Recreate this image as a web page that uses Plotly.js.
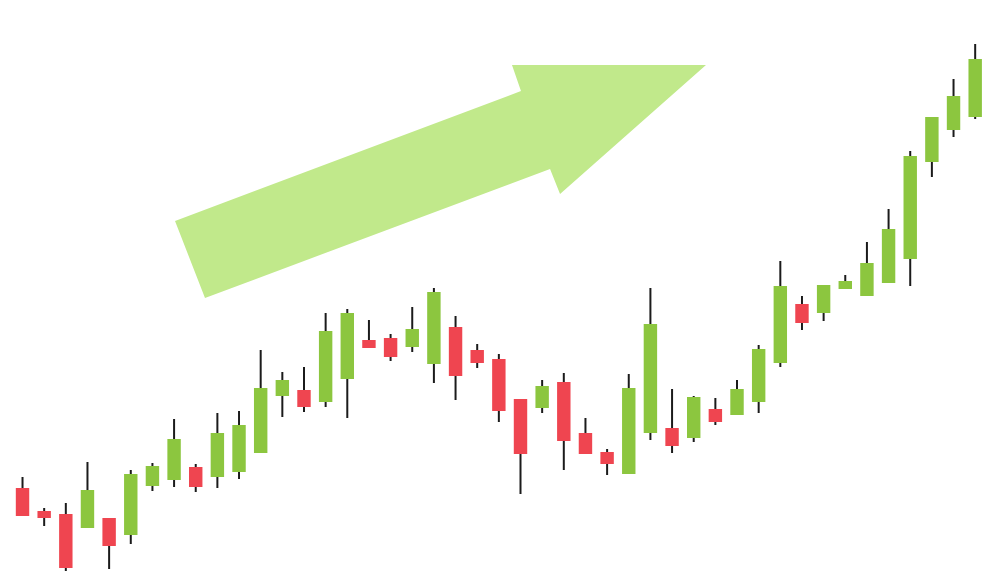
<!DOCTYPE html>
<html>
<head>
<meta charset="utf-8">
<script src="https://cdn.plot.ly/plotly-3.0.1.min.js"></script>
<style>
  html, body { margin: 0; padding: 0; background: #ffffff; }
  #chart { width: 999px; height: 583px; }
</style>
</head>
<body>
<div id="chart"></div>
<script>
// Candle index (sessions)
const sessions = Array.from({length: 45}, (_, i) => i + 1);

// OHLC values
const openP  = [95, 72, 69, 55, 65, 48, 97, 103, 116, 106, 111, 130, 187, 193, 181, 204, 243, 245, 236, 219, 256, 233, 224, 184, 175, 201, 150, 131, 109, 150, 155, 145, 174, 168, 181, 220, 279, 270, 294, 287, 300, 324, 421, 453, 466];
const highP  = [106, 75, 80, 121, 65, 113, 120, 164, 119, 170, 172, 233, 211, 216, 270, 274, 263, 249, 276, 295, 267, 239, 229, 184, 203, 210, 165, 134, 209, 295, 194, 187, 185, 203, 238, 322, 287, 298, 308, 341, 374, 432, 466, 504, 539];
const lowP   = [67, 57, 12, 55, 14, 39, 92, 96, 91, 95, 104, 130, 166, 171, 176, 165, 235, 222, 231, 200, 183, 215, 161, 89, 170, 113, 129, 108, 109, 143, 130, 141, 158, 168, 170, 216, 253, 262, 294, 287, 300, 297, 406, 446, 464];
const closeP = [67, 65, 15, 93, 37, 109, 117, 144, 96, 150, 158, 195, 203, 176, 252, 270, 235, 226, 254, 291, 207, 220, 172, 129, 197, 142, 129, 119, 195, 259, 137, 186, 161, 194, 234, 297, 260, 298, 302, 320, 354, 427, 466, 487, 524];

const upColor = '#8cc63f';
const downColor = '#ef4550';
const wickColor = '#1b1b1b';

const xs = sessions.map(s => s - 1);
const bases = openP.map((o, i) => Math.min(o, closeP[i]));
const heights = openP.map((o, i) => Math.abs(closeP[i] - o));
const colors = openP.map((o, i) => closeP[i] >= o ? upColor : downColor);

// wick segments outside the bodies
const wx = [], wy = [];
xs.forEach((x, i) => {
  const top = Math.max(openP[i], closeP[i]);
  const bot = Math.min(openP[i], closeP[i]);
  if (highP[i] > top) { wx.push(x, x, null); wy.push(top, highP[i], null); }
  if (lowP[i] < bot) { wx.push(x, x, null); wy.push(lowP[i], bot, null); }
});

const bodies = {
  type: 'bar',
  x: xs,
  y: heights,
  base: bases,
  width: 0.62,
  marker: { color: colors, line: { width: 0 } },
  hoverinfo: 'skip',
  showlegend: false
};

const wicks = {
  type: 'scatter',
  mode: 'lines',
  x: wx,
  y: wy,
  line: { color: wickColor, width: 2 },
  hoverinfo: 'skip',
  showlegend: false
};

// decorative arrow outline (pixel positions -> paper fractions)
const W = 999, H = 583;
const arrowPx = [[175,221],[521,91],[512,65],[706,65],[560,194],[550,169],[205,298]];
const arrowPath = arrowPx.map((p, i) => (i ? 'L' : 'M') + (p[0] / W).toFixed(4) + ',' + (1 - p[1] / H).toFixed(4)).join(' ') + ' Z';

const layout = {
  width: 999,
  height: 583,
  margin: { l: 0, r: 0, t: 0, b: 0 },
  paper_bgcolor: '#ffffff',
  plot_bgcolor: '#ffffff',
  barmode: 'overlay',
  xaxis: { range: [-1.04, 45.1], showgrid: false, zeroline: false, showticklabels: false, ticks: '', showline: false, fixedrange: true },
  yaxis: { range: [0, 583], showgrid: false, zeroline: false, showticklabels: false, ticks: '', showline: false, fixedrange: true },
  shapes: [{
    type: 'path',
    xref: 'paper',
    yref: 'paper',
    path: arrowPath,
    fillcolor: '#c1e98b',
    line: { width: 0 },
    layer: 'below'
  }],
  showlegend: false
};

Plotly.newPlot('chart', [bodies, wicks], layout, { displayModeBar: false, staticPlot: true });
</script>
</body>
</html>
